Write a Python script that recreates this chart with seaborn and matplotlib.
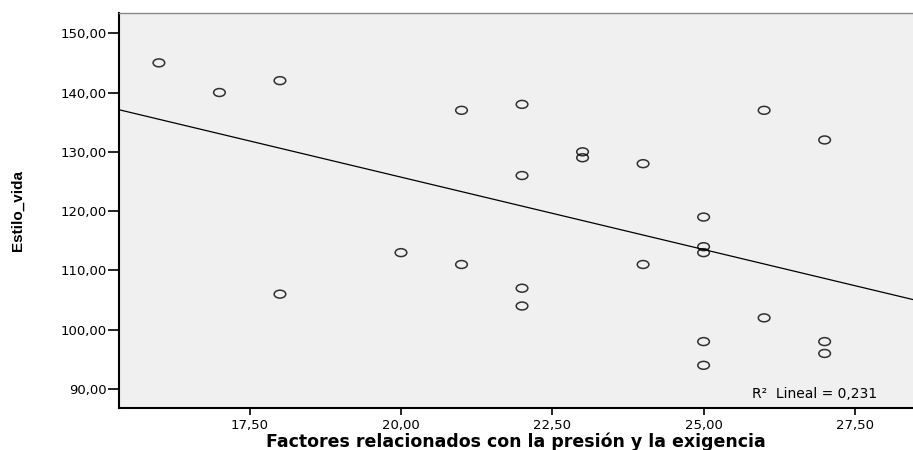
import matplotlib
matplotlib.use("Agg")
import matplotlib.pyplot as plt
import matplotlib.ticker as mticker
from matplotlib.path import Path
import seaborn as sns
import pandas as pd

# Data
factores = [16, 17, 18, 18, 20, 21, 21, 22, 22, 22, 22, 23, 23, 24, 24,
            25, 25, 25, 25, 25, 26, 26, 27, 27, 27]
estilo_vida = [145, 140, 142, 106, 113, 137, 111, 138, 126, 107, 104, 130, 129, 128, 111,
               119, 114, 113, 98, 94, 137, 102, 132, 98, 96]
x_ticks = [17.5, 20.0, 22.5, 25.0, 27.5]
y_ticks = [90, 100, 110, 120, 130, 140, 150]
r2_label = "R\u00b2  Lineal = 0,231"

df = pd.DataFrame({"factores": factores, "estilo_vida": estilo_vida})

sns.set_style("white")
plt.rcParams["font.family"] = ["DejaVu Sans"]

# SPSS draws its circles a little squashed
circle = Path.unit_circle()
oval = Path(circle.vertices * [1.0, 0.68], circle.codes)

fig = plt.figure(figsize=(9.13, 4.5), dpi=100)
ax = fig.add_axes([0.1303, 0.0933, 0.8697, 0.8777])
ax.set_facecolor("#f0f0f0")
ax.set_xlim(15.34, 28.46)
ax.set_ylim(86.8, 153.4)

sns.regplot(data=df, x="factores", y="estilo_vida", ax=ax, ci=None, truncate=False,
            marker=oval,
            scatter_kws={"s": 70, "facecolors": "none", "edgecolors": "black",
                         "linewidths": 1.1},
            line_kws={"color": "black", "linewidth": 0.9})

# comma decimals like SPSS output
fmt = mticker.FuncFormatter(lambda v, p: f"{v:.2f}".replace(".", ","))
ax.set_xticks(x_ticks)
ax.set_yticks(y_ticks)
ax.xaxis.set_major_formatter(fmt)
ax.yaxis.set_major_formatter(fmt)
ax.tick_params(axis="y", length=8, width=1.2, color="black", labelsize=9.5, pad=1,
               left=True, labelcolor="black")
ax.tick_params(axis="x", length=5, width=1.2, color="black", labelsize=9.5, pad=3,
               bottom=True, labelcolor="black")

for side in ["left", "bottom"]:
    ax.spines[side].set_color("black")
    ax.spines[side].set_linewidth(1.5)
ax.spines["top"].set_color("#888888")
ax.spines["top"].set_linewidth(1.0)
ax.spines["right"].set_visible(False)

ax.set_xlabel("Factores relacionados con la presión y la exigencia",
              fontsize=12.5, fontweight="bold", va="baseline", color="black")
ax.xaxis.set_label_coords(0.5, -0.0985)
ax.set_ylabel("Estilo_vida", fontsize=11, fontweight="bold", va="center", color="black",
              family=["Liberation Sans Narrow", "Liberation Sans"])
ax.yaxis.set_label_coords(-0.127, 0.5)

ax.text(0.955, 0.035, r2_label, transform=ax.transAxes, ha="right", va="center",
        fontsize=10, color="black")

fig.savefig("out.png", dpi=100)
